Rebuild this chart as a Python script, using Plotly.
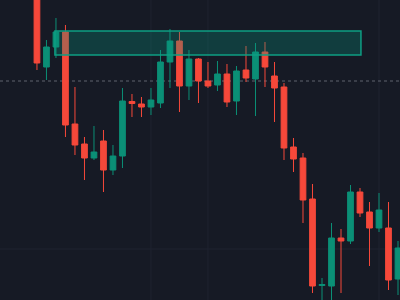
import plotly.graph_objects as go

# Candle data (index-based time axis)
bars = list(range(39))
open_ = [330, 233, 253, 268, 176, 156, 142, 159, 130, 144,
         198.5, 196, 193, 197, 238, 259, 214, 241, 219, 215,
         226, 199, 230, 221, 248, 224, 213, 153, 142, 101,
         14.5, 14, 62, 59, 108, 88, 72, 72, 21]
high = [345, 260, 282, 275, 213, 163, 174, 170, 155, 212,
        206, 203, 212, 250, 271, 268, 250, 242, 238, 239,
        236, 234, 254, 257, 258, 238, 217, 162, 147, 116,
        22, 77, 71, 115, 112, 98, 107, 98, 59]
low = [230, 220, 242, 163, 145, 120, 140, 108, 125, 132,
       183, 183, 185, 192, 212, 188, 200, 197, 212, 209,
       193, 185, 218, 184, 213, 178, 140, 128, 77, 7,
       -10, -10, 7, 56, 83, 34, 68, 10, 5]
close = [237, 253, 268, 175, 155, 142, 148, 130, 144, 199,
         196.5, 193, 200, 238, 259, 214, 241, 219, 214, 226,
         198, 229, 222, 248, 233, 212, 152, 141, 100, 14,
         15.5, 62, 59, 108, 87, 72, 90, 20, 52]

# Annotations
zone_start, zone_end = 1.89, 34.1
zone_low, zone_high = 245, 269
level_price = 219
grid_bars = [12, 18, 36]
grid_prices = [51]

BG = "#161a25"
GRID = "#1f2330"
UP = "#0b8f76"
DOWN = "#f6483a"

fig = go.Figure()
fig.add_trace(go.Candlestick(
    x=bars, open=open_, high=high, low=low, close=close,
    increasing=dict(line=dict(color=UP, width=1), fillcolor=UP),
    decreasing=dict(line=dict(color=DOWN, width=1), fillcolor=DOWN),
    whiskerwidth=0, showlegend=False, hoverinfo="skip",
))

shapes = []
for gx in grid_bars:
    shapes.append(dict(type="line", xref="x", yref="paper", x0=gx, x1=gx, y0=0, y1=1,
                       line=dict(color=GRID, width=1), layer="below"))
for gy in grid_prices:
    shapes.append(dict(type="line", xref="paper", yref="y", x0=0, x1=1, y0=gy, y1=gy,
                       line=dict(color=GRID, width=1), layer="below"))
shapes.append(dict(type="line", xref="paper", yref="y", x0=0, x1=1, y0=level_price, y1=level_price,
                   line=dict(color="#5f636e", width=1, dash="3px,3px"), layer="below"))
shapes.append(dict(type="rect", xref="x", yref="y", x0=zone_start, x1=zone_end,
                   y0=zone_low, y1=zone_high,
                   line=dict(color="#0e9e83", width=1.5),
                   fillcolor="rgba(8,153,129,0.28)", layer="above"))

fig.update_layout(
    width=400, height=300,
    margin=dict(l=0, r=0, t=0, b=0),
    paper_bgcolor=BG, plot_bgcolor=BG,
    boxgap=0.14,
    shapes=shapes,
    xaxis=dict(range=[-3.89, 38.21], visible=False, rangeslider=dict(visible=False),
               showgrid=False, zeroline=False, fixedrange=True),
    yaxis=dict(range=[0, 300], visible=False, showgrid=False, zeroline=False, fixedrange=True),
    showlegend=False,
)

fig.write_html("out.html", config={"displayModeBar": False})
